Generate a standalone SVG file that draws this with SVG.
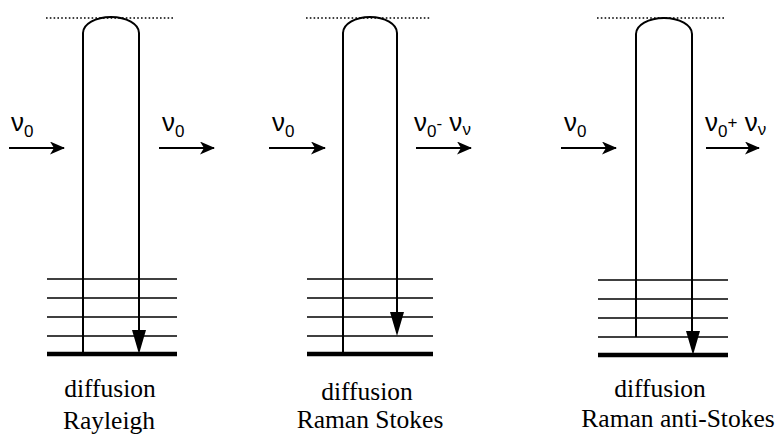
<svg xmlns="http://www.w3.org/2000/svg" width="775" height="435" viewBox="0 0 775 435">
<style>
.bg{fill:#fff}
.dot{stroke:#000;stroke-width:1.6;stroke-dasharray:1.6,2.2;fill:none}
.tube{stroke:#000;stroke-width:2;fill:none}
.lvl{stroke:#000;stroke-width:1.6}
.gnd{stroke:#000;stroke-width:4.5}
.nu{font-family:"Liberation Sans",Arial,sans-serif;font-size:26px;fill:#000}
.sub{font-size:17px}
.lab{font-family:"Liberation Serif","Times New Roman",serif;font-size:25.5px;fill:#000;text-anchor:middle}
.arr{stroke:#000;stroke-width:2;fill:none}
.head{fill:#000}
</style>
<defs>
<marker id="ah" viewBox="0 0 15 13" refX="14" refY="6.5" markerWidth="15" markerHeight="13" markerUnits="userSpaceOnUse" orient="auto">
<path d="M0,0 L15,6.5 L0,13 L4,6.5 Z" fill="#000"/>
</marker>
</defs>
<rect class="bg" x="0" y="0" width="775" height="435"/>

<g id="rayleigh">
<line class="dot" x1="46" y1="18" x2="175" y2="18"/>
<path class="tube" d="M83,354 L83,33 A28,16 0 0 1 139,33 L139,340"/>
<line class="lvl" x1="47" y1="279" x2="177" y2="279"/>
<line class="lvl" x1="47" y1="298" x2="177" y2="298"/>
<line class="lvl" x1="47" y1="317" x2="177" y2="317"/>
<line class="lvl" x1="47" y1="336" x2="177" y2="336"/>
<line class="gnd" x1="47" y1="354" x2="177" y2="354"/>
<polygon class="head" points="132,330 146,330 139,354"/>
<text class="nu" x="11" y="131">ν<tspan class="sub" dy="6">0</tspan></text>
<text class="nu" x="162" y="131">ν<tspan class="sub" dy="6">0</tspan></text>
<text class="lab" x="110" y="397">diffusion</text>
<text class="lab" x="109" y="429">Rayleigh</text>
</g>

<g id="stokes">
<line class="dot" x1="306" y1="18" x2="431" y2="18"/>
<path class="tube" d="M343,354 L343,33 A27,16 0 0 1 397,33 L397,320"/>
<line class="lvl" x1="307" y1="279" x2="433" y2="279"/>
<line class="lvl" x1="307" y1="298" x2="433" y2="298"/>
<line class="lvl" x1="307" y1="317" x2="433" y2="317"/>
<line class="lvl" x1="307" y1="336" x2="433" y2="336"/>
<line class="gnd" x1="307" y1="354" x2="433" y2="354"/>
<polygon class="head" points="390,312 404,312 397,336"/>
<text class="nu" x="272" y="131">ν<tspan class="sub" dy="6">0</tspan></text>
<text class="nu" x="414" y="131">ν<tspan class="sub" dy="6">0</tspan><tspan class="sub" dy="-8">-</tspan><tspan dy="2"> ν</tspan><tspan class="sub" dy="4">ν</tspan></text>
<text class="lab" x="367" y="400">diffusion</text>
<text class="lab" x="370" y="428">Raman Stokes</text>
</g>

<g id="antistokes">
<line class="dot" x1="597" y1="18" x2="725" y2="18"/>
<path class="tube" d="M636,337 L636,34 A28,16 0 0 1 692,34 L692,340"/>
<line class="lvl" x1="598" y1="280" x2="728" y2="280"/>
<line class="lvl" x1="598" y1="299" x2="728" y2="299"/>
<line class="lvl" x1="598" y1="318" x2="728" y2="318"/>
<line class="lvl" x1="598" y1="337" x2="728" y2="337"/>
<line class="gnd" x1="598" y1="355" x2="728" y2="355"/>
<polygon class="head" points="686,331 700,331 693,355"/>
<text class="nu" x="564" y="131">ν<tspan class="sub" dy="6">0</tspan></text>
<text class="nu" x="705" y="131">ν<tspan class="sub" dy="6">0</tspan><tspan class="sub" dy="-9">+</tspan><tspan dy="3"> ν</tspan><tspan class="sub" dy="4">ν</tspan></text>
<text class="lab" x="660" y="397">diffusion</text>
<text class="lab" x="678" y="427">Raman anti-Stokes</text>
</g>

<g id="connectors">
<line class="arr" x1="9" y1="148" x2="64" y2="148" marker-end="url(#ah)"/>
<line class="arr" x1="159" y1="148" x2="214" y2="148" marker-end="url(#ah)"/>
<line class="arr" x1="269" y1="148" x2="325" y2="148" marker-end="url(#ah)"/>
<line class="arr" x1="416" y1="148" x2="471" y2="148" marker-end="url(#ah)"/>
<line class="arr" x1="561" y1="148" x2="616" y2="148" marker-end="url(#ah)"/>
<line class="arr" x1="706" y1="148" x2="759" y2="148" marker-end="url(#ah)"/>
</g>
</svg>
